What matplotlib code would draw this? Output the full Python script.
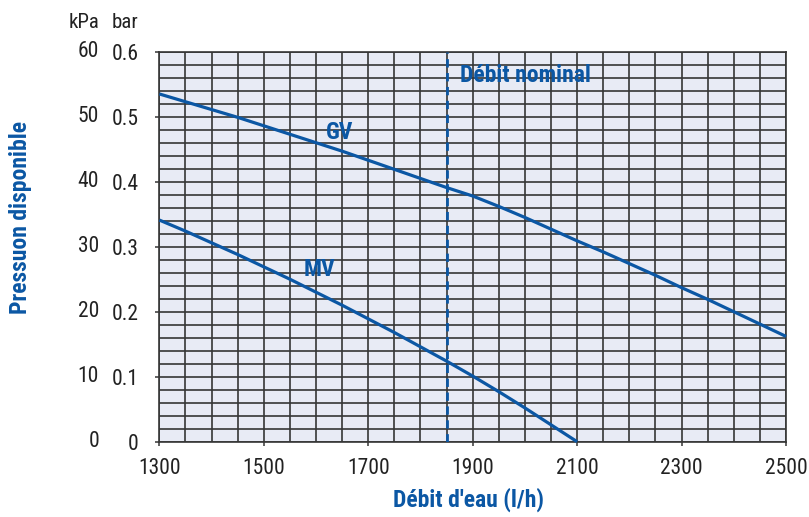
import matplotlib
matplotlib.use("Agg")
import matplotlib.pyplot as plt
import matplotlib.transforms as mtransforms
from matplotlib import font_manager as fm
from matplotlib.ticker import MultipleLocator

#=============================================
# Fuente: una condensada si la hay instalada.
#=============================================

familias = {f.name for f in fm.fontManager.ttflist}
condensadas = {f.name for f in fm.fontManager.ttflist if str(f.stretch) in ('condensed', 'semi-condensed', '75', '87')}
if 'Liberation Sans Narrow' in familias:
    plt.rcParams['font.family'] = ['Liberation Sans Narrow', 'DejaVu Sans']
elif 'Roboto Condensed' in familias:
    plt.rcParams['font.family'] = ['Roboto Condensed', 'DejaVu Sans']
elif 'DejaVu Sans' in condensadas:
    plt.rcParams['font.family'] = ['DejaVu Sans']
    plt.rcParams['font.stretch'] = 'condensed'
else:
    plt.rcParams['font.family'] = ['Roboto', 'DejaVu Sans']

#=========
# Datos.
#=========

debit_gv = [1300, 1350, 1400, 1450, 1500, 1550, 1600, 1650, 1700, 1750, 1800, 1850, 1900,
            1950, 2000, 2050, 2100, 2150, 2200, 2250, 2300, 2350, 2400, 2450, 2500]
pression_gv = [0.535, 0.523, 0.511, 0.499, 0.486, 0.473, 0.460, 0.447, 0.433, 0.419, 0.405, 0.391, 0.378,
               0.362, 0.345, 0.327, 0.309, 0.292, 0.274, 0.256, 0.237, 0.219, 0.200, 0.181, 0.162]

debit_mv = [1300, 1350, 1400, 1450, 1500, 1550, 1600, 1650, 1700, 1750, 1800, 1850, 1900,
            1950, 2000, 2050, 2100]
pression_mv = [0.341, 0.324, 0.306, 0.288, 0.269, 0.250, 0.230, 0.210, 0.189, 0.168, 0.146, 0.124, 0.101,
               0.077, 0.052, 0.026, 0.0]

debit_nominal = 1850

ticks_x = [1300, 1500, 1700, 1900, 2100, 2300, 2500]
ticks_bar = [0, 0.1, 0.2, 0.3, 0.4, 0.5, 0.6]
labels_bar = ['0', '0.1', '0.2', '0.3', '0.4', '0.5', '0.6']
labels_kpa = ['0', '10', '20', '30', '40', '50', '60']

bleu = '#0b57a4'
gris_texte = '#222222'
couleur_grille = '#363636'

#===========
# Figura.
#===========

fig = plt.figure(figsize=(8.09, 5.17), dpi=100)
ax = fig.add_axes([0.197, 0.1456, 0.7746, 0.7544])
ax.set_facecolor('#e8ebf5')

ax.set_xlim(1300, 2500)
ax.set_ylim(0, 0.6)

ax.xaxis.set_minor_locator(MultipleLocator(50))
ax.yaxis.set_minor_locator(MultipleLocator(0.02))
ax.set_xticks(ticks_x)
ax.set_xticklabels([str(v) for v in ticks_x])
ax.set_yticks(ticks_bar)
ax.set_yticklabels(labels_bar)

ax.grid(True, which='both', color=couleur_grille, linewidth=1.2)
ax.set_axisbelow(True)
ax.tick_params(which='major', direction='out', length=3, width=1.1, color=couleur_grille,
               labelsize=15.5, labelcolor=gris_texte)
ax.tick_params(axis='y', which='major', pad=12)
ax.tick_params(axis='x', which='major', pad=9)
ax.tick_params(which='minor', length=0)
for s in ax.spines.values():
    s.set_color(couleur_grille)
    s.set_linewidth(1.2)

# Curvas.
ax.plot(debit_gv, pression_gv, color=bleu, linewidth=2.3, solid_capstyle='butt', clip_on=False, zorder=3)
ax.plot(debit_mv, pression_mv, color=bleu, linewidth=2.3, solid_capstyle='butt', clip_on=False, zorder=3)
ax.axvline(debit_nominal, color=bleu, linewidth=2.0, linestyle=(0, (3, 2)), zorder=3)

# Textos.
ax.text(debit_nominal + 25, 0.563, 'Débit nominal', color=bleu, fontsize=17, fontweight='bold',
        ha='left', va='center')
ax.text(1645, 0.476, 'GV', color=bleu, fontsize=17, fontweight='bold', ha='center', va='center')
ax.text(1607, 0.265, 'MV', color=bleu, fontsize=17, fontweight='bold', ha='center', va='center')

# Columna kPa.
trans = mtransforms.blended_transform_factory(fig.transFigure, ax.transData)
for v, lab in zip(ticks_bar, labels_kpa):
    ax.text(99 / 809, v, lab, transform=trans, ha='right', va='center', fontsize=15.5, color=gris_texte)
fig.text(99 / 809, 1 - 23 / 517, 'kPa', ha='right', va='center', fontsize=15, color=gris_texte)
fig.text(138 / 809, 1 - 23 / 517, 'bar', ha='right', va='center', fontsize=15, color=gris_texte)

fig.text(468 / 809, 1 - 500 / 517, "Débit d'eau (l/h)", ha='center', va='center', fontsize=17,
         fontweight='bold', color=bleu)
fig.text(21 / 809, 1 - 218 / 517, 'Pressuon disponible', ha='center', va='center', fontsize=17,
         fontweight='bold', color=bleu, rotation=90)

fig.savefig('out.png', dpi=100)
